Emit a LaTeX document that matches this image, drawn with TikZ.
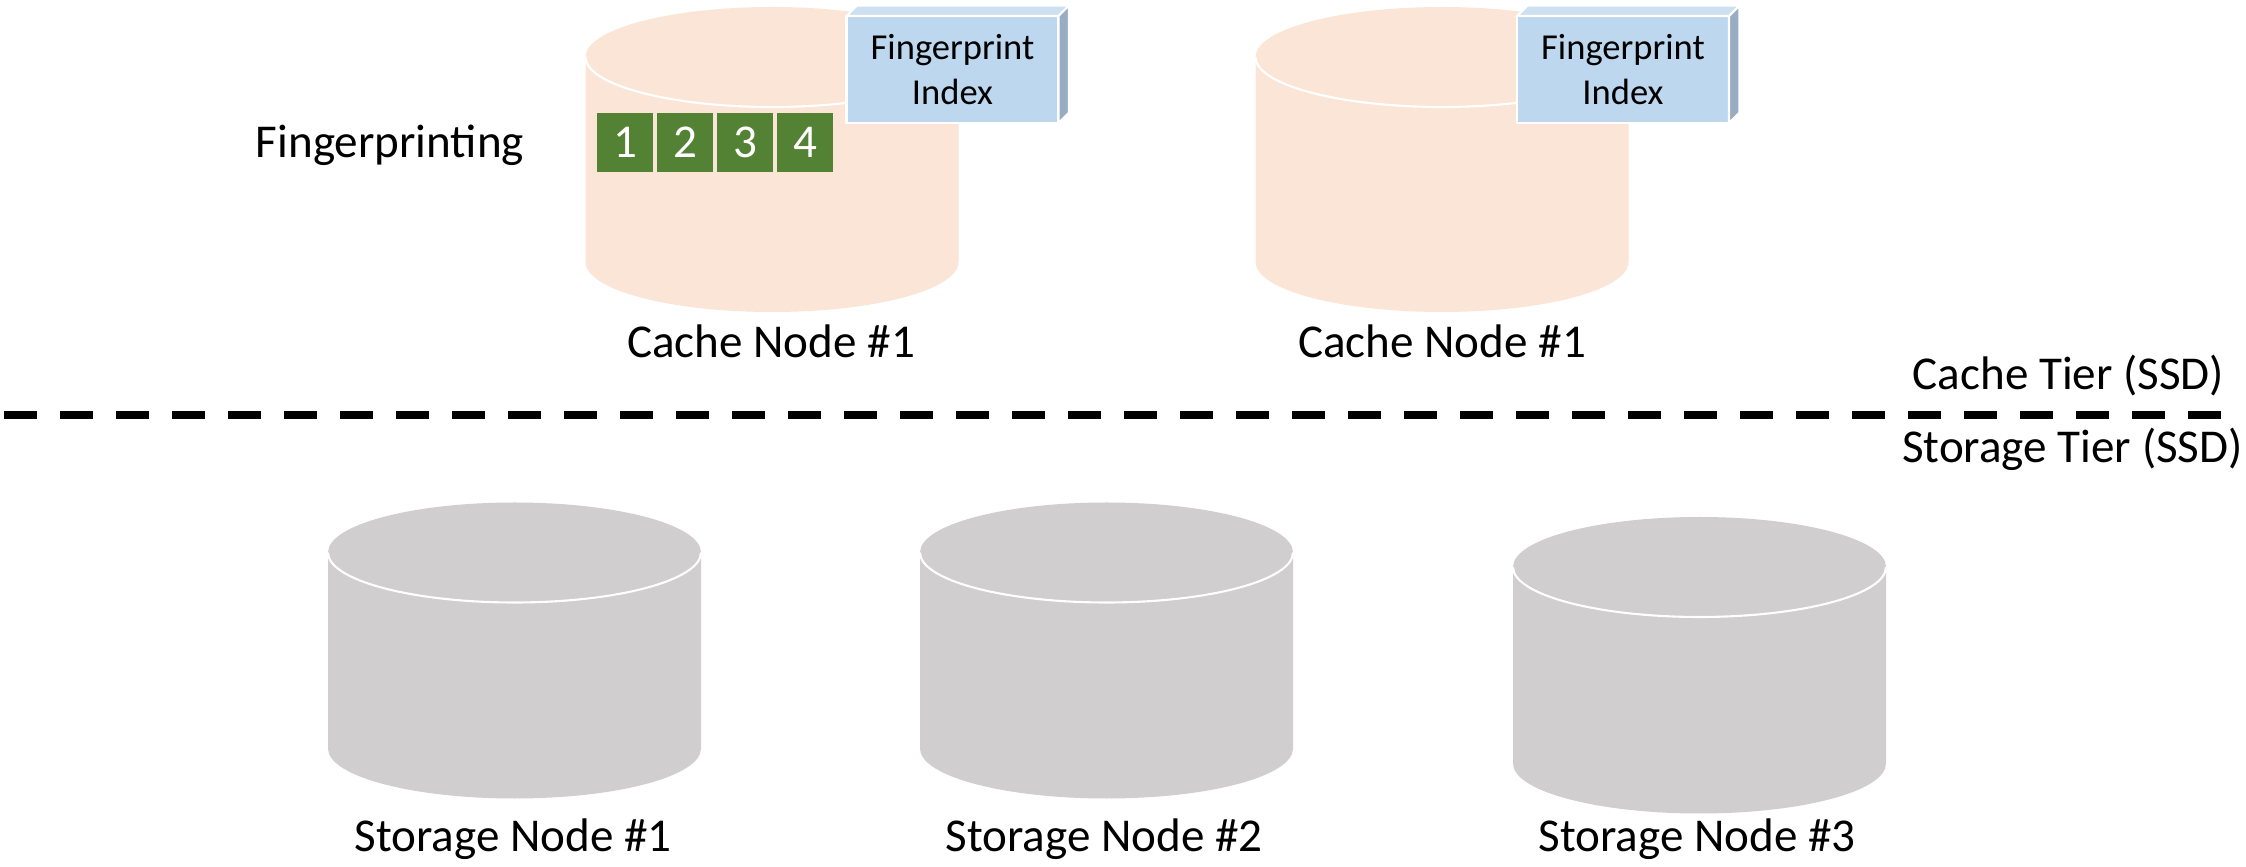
\documentclass[tikz,border=0pt]{standalone}
\usepackage{fontspec}
\setmainfont{Carlito}
\usetikzlibrary{positioning}
\usetikzlibrary{calc}
\definecolor{peach}{HTML}{FBE5D6}
\definecolor{disk}{HTML}{D0CECE}
\definecolor{idxblue}{HTML}{BDD7EE}
\definecolor{idxtop}{HTML}{CCE0F2}
\definecolor{idxside}{HTML}{98ADC3}
\definecolor{chunk}{HTML}{548235}
\newcommand{\drumrx}{1.865}
\newcommand{\drumry}{0.50}
% #1 lid centre, #2 height, #3 fill, #4 name of the lid centre
\newcommand{\drum}[4]{%
  \coordinate (#4) at #1;
  \fill[#3] ($(#4)+(-\drumrx,0)$) -- ++(0,-#2)
    arc[start angle=180, end angle=360, x radius=\drumrx, y radius=\drumry]
    -- ++(0,#2)
    arc[start angle=0, end angle=180, x radius=\drumrx, y radius=\drumry] -- cycle;
  \draw[white, line width=0.6pt] ($(#4)+(-\drumrx,0)$)
    arc[start angle=180, end angle=360, x radius=\drumrx, y radius=\drumry];
}
% top and side faces of an index box
\newcommand{\boxdepth}[1]{%
  \filldraw[idxtop, draw=white, line width=0.6pt] (#1.north west) -- ++(0.105,0.105)
    -- ($(#1.north east)+(0.105,0.105)$) -- (#1.north east) -- cycle;
  \filldraw[idxside, draw=white, line width=0.6pt] (#1.north east) -- ++(0.105,0.105)
    -- ($(#1.south east)+(0.105,0.105)$) -- (#1.south east) -- cycle;
}

\begin{document}
\begin{tikzpicture}[
    txt/.style={font=\fontsize{13.4pt}{16pt}\selectfont, inner sep=0pt, anchor=base},
    fpindex/.style={fill=idxblue, draw=white, line width=0.6pt, outer sep=0pt,
      minimum width=2.12cm, minimum height=1.07cm, align=center, inner sep=0pt,
      font=\fontsize{10.4pt}{12.8pt}\selectfont},
    blk/.style={fill=chunk, text=white, minimum width=0.56cm, minimum height=0.59cm,
      inner sep=0pt, outer sep=0pt, font=\fontsize{13.4pt}{16pt}\selectfont},
    tierline/.style={line width=0.08cm, dash pattern=on 0.33cm off 0.23cm}]
    \useasboundingbox (0,0) rectangle (22.46,8.66);

    % cache tier
    \drum{(7.72,8.09)}{2.05}{peach}{cache1}
    \drum{(14.42,8.09)}{2.05}{peach}{cache2}
    \node[fpindex] (idx1) at (9.525,7.965) {Fingerprint\\Index};
    \boxdepth{idx1}
    \node[fpindex] (idx2) at (16.23,7.965) {Fingerprint\\Index};
    \boxdepth{idx2}
    \node[blk] (b1) at (6.25,7.235) {1};
    \foreach \n [count=\p] in {2,3,4}
        \node[blk, right=0.04cm of b\p] (b\n) {\n};
    \node[txt] (fp) at (3.90,7.08) {Fingerprinting};
    \node[txt] (c1lbl) at (7.71,5.08) {Cache Node \#1};
    \node[txt] (c2lbl) at (14.42,5.08) {Cache Node \#1};

    % tier border
    \coordinate (tierL) at (0.04,4.51);
    \coordinate (tierR) at (22.21,4.51);
    \draw[tierline] (tierL) -- (tierR);
    \node[txt] (cachetier) at (20.685,4.76) {Cache Tier (SSD)};
    \node[txt] (storetier) at (20.725,4.03) {Storage Tier (SSD)};

    % storage tier
    \drum{(5.145,3.135)}{1.96}{disk}{store1}
    \drum{(11.065,3.135)}{1.96}{disk}{store2}
    \drum{(16.995,2.99)}{1.965}{disk}{store3}
    \node[txt] (s1lbl) at (5.13,0.14) {Storage Node \#1};
    \node[txt] (s2lbl) at (11.04,0.14) {Storage Node \#2};
    \node[txt] (s3lbl) at (16.97,0.14) {Storage Node \#3};
\end{tikzpicture}
\end{document}
